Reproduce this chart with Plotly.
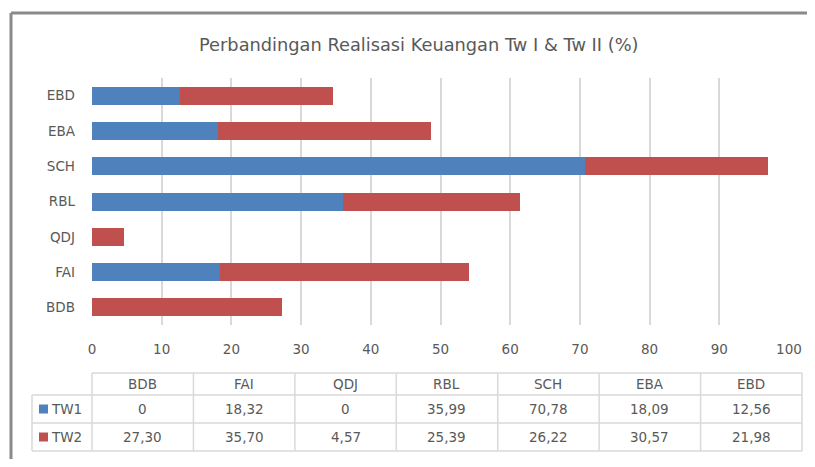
import plotly.graph_objects as go

categories = ["BDB", "FAI", "QDJ", "RBL", "SCH", "EBA", "EBD"]
tw1 = [0, 18.32, 0, 35.99, 70.78, 18.09, 12.56]
tw2 = [27.30, 35.70, 4.57, 25.39, 26.22, 30.57, 21.98]
series_names = ["TW1", "TW2"]
colors = ["#4F81BD", "#C0504D"]
x_ticks = list(range(0, 101, 10))
title_text = "Perbandingan Realisasi Keuangan Tw I & Tw II (%)"

OFF = 8  # default page body margin
W, H = 815 - 2 * OFF, 467 - 2 * OFF
L, R, T, B = 92, 789, 78, 325  # plot area in screen pixels

def px(x):
    return (x - L) / (R - L)

def py(y):
    return (B - y) / (B - T)

FONT = "DejaVu Sans"
TXT = "#595959"
FS = 13.5

fig = go.Figure()
for name, vals, col in zip(series_names, [tw1, tw2], colors):
    fig.add_trace(go.Bar(y=categories, x=vals, name=name, orientation="h",
                         marker=dict(color=col, line=dict(width=0)),
                         showlegend=False))

shapes = []
# outer frame (top and left visible)
shapes.append(dict(type="line", xref="paper", yref="paper", x0=px(11), x1=px(830),
                   y0=py(13), y1=py(13), line=dict(color="#8a8a8a", width=3)))
shapes.append(dict(type="line", xref="paper", yref="paper", x0=px(11), x1=px(11),
                   y0=py(13), y1=py(480), line=dict(color="#8a8a8a", width=3)))

# data table
col_edges = [92 + i * (802 - 92) / len(categories) for i in range(len(categories) + 1)]
row_edges = [373, 395, 423, 451]
gc = "#d9d9d9"
shapes.append(dict(type="line", xref="paper", yref="paper", x0=px(92), x1=px(802),
                   y0=py(373), y1=py(373), line=dict(color=gc, width=1.5)))
for yy in row_edges[1:]:
    shapes.append(dict(type="line", xref="paper", yref="paper", x0=px(32), x1=px(802),
                       y0=py(yy), y1=py(yy), line=dict(color=gc, width=1.5)))
shapes.append(dict(type="line", xref="paper", yref="paper", x0=px(32), x1=px(32),
                   y0=py(395), y1=py(451), line=dict(color=gc, width=1.5)))
for xx in col_edges:
    shapes.append(dict(type="line", xref="paper", yref="paper", x0=px(xx), x1=px(xx),
                       y0=py(373), y1=py(451), line=dict(color=gc, width=1.5)))

annotations = []
def fmt(v):
    return "0" if v == 0 else f"{v:.2f}".replace(".", ",")

row_centers = [(row_edges[i] + row_edges[i + 1]) / 2 for i in range(3)]
row_centers[0] = 384
for i, c in enumerate(categories):
    cx = (col_edges[i] + col_edges[i + 1]) / 2
    annotations.append(dict(x=px(cx), y=py(row_centers[0]), xref="paper", yref="paper",
                            text=c, showarrow=False, xanchor="center", yanchor="middle",
                            font=dict(family=FONT, size=FS, color=TXT)))
    for r, vals in enumerate([tw1, tw2]):
        annotations.append(dict(x=px(cx), y=py(row_centers[r + 1]), xref="paper", yref="paper",
                                text=fmt(vals[i]), showarrow=False, xanchor="center",
                                yanchor="middle", font=dict(family=FONT, size=FS, color=TXT)))

for r, (name, col) in enumerate(zip(series_names, colors)):
    cy = row_centers[r + 1]
    shapes.append(dict(type="rect", xref="paper", yref="paper", x0=px(39), x1=px(48),
                       y0=py(cy - 4.5), y1=py(cy + 4.5), fillcolor=col, line=dict(width=0)))
    annotations.append(dict(x=px(49), y=py(cy), xref="paper", yref="paper", text=name,
                            showarrow=False, xanchor="left", yanchor="middle",
                            font=dict(family=FONT, size=FS, color=TXT)))

annotations.append(dict(x=px(418), y=py(44), xref="paper", yref="paper", text=title_text,
                        showarrow=False, xanchor="center", yanchor="middle",
                        font=dict(family=FONT, size=17.8, color=TXT)))

fig.update_layout(
    width=W, height=H, barmode="stack", bargap=0.49,
    margin=dict(l=L - OFF, r=W - (R - OFF), t=T - OFF, b=H - (B - OFF), pad=0,
                autoexpand=False),
    paper_bgcolor="white", plot_bgcolor="white",
    xaxis=dict(range=[0, 100], tickvals=x_ticks, showgrid=True, gridcolor="#d9d9d9",
               gridwidth=1.5, zeroline=False, showline=False, ticks="", automargin=False,
               ticklabelstandoff=14, tickfont=dict(family=FONT, size=FS, color=TXT)),
    yaxis=dict(type="category", categoryorder="array", categoryarray=categories,
               range=[-0.5, len(categories) - 0.5], showgrid=False, zeroline=False,
               showline=False, ticks="", ticklabelstandoff=16, automargin=False,
               tickfont=dict(family=FONT, size=FS, color=TXT)),
    shapes=shapes, annotations=annotations,
)

fig.write_html("out.html")
